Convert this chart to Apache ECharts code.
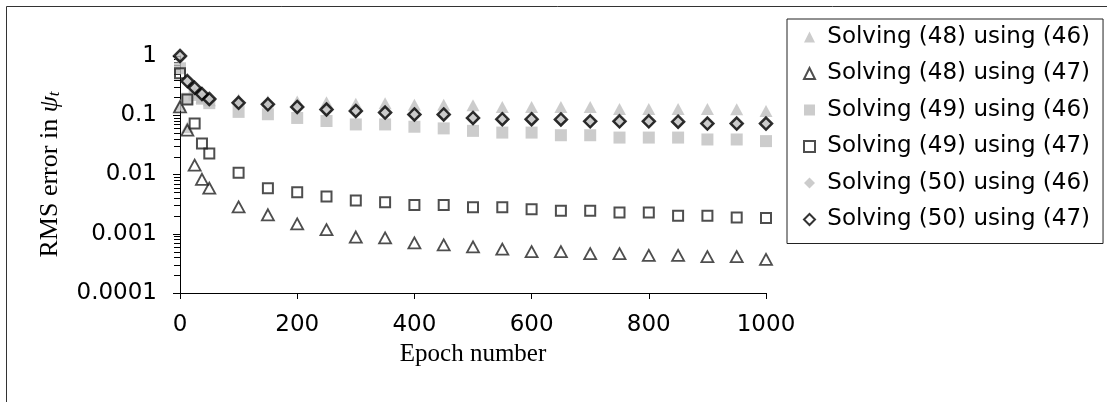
<!DOCTYPE html>
<html>
<head>
<meta charset="utf-8">
<script src="https://cdn.jsdelivr.net/npm/echarts@6/dist/echarts.min.js"></script>
<style>
html,body{margin:0;padding:0;background:#fff;}
#chart{width:1107px;height:402px;}
</style>
</head>
<body>
<div id="chart"></div>
<script>
// ---- data ----
const epochs = [0, 12.5, 25, 37.5, 50, 100, 150, 200, 250, 300, 350, 400, 450, 500, 550, 600, 650, 700, 750, 800, 850, 900, 950, 1000];

const solving48using46 = [0.15, 0.063, 0.24, 0.2, 0.18, 0.185, 0.172, 0.17, 0.165, 0.157, 0.16, 0.151, 0.151, 0.147, 0.138, 0.138, 0.138, 0.138, 0.128, 0.128, 0.128, 0.128, 0.126, 0.118];
const solving48using47 = [0.138, 0.056, 0.0144, 0.0083, 0.0059, 0.00284, 0.00209, 0.00147, 0.00117, 0.00088, 0.00085, 0.0007, 0.00065, 0.0006, 0.00055, 0.0005, 0.0005, 0.00046, 0.00046, 0.00043, 0.00043, 0.00041, 0.00041, 0.00037];
const solving49using46 = [0.62, 0.19, 0.22, 0.19, 0.16, 0.114, 0.104, 0.09, 0.08, 0.07, 0.07, 0.064, 0.06, 0.0545, 0.051, 0.051, 0.046, 0.046, 0.042, 0.042, 0.042, 0.039, 0.039, 0.0366];
const solving49using47 = [0.51, 0.184, 0.0726, 0.0334, 0.0227, 0.0107, 0.00586, 0.00502, 0.00424, 0.00363, 0.00341, 0.00307, 0.00307, 0.00281, 0.00281, 0.0026, 0.00244, 0.00244, 0.00228, 0.00228, 0.00201, 0.00201, 0.00188, 0.00184];
const solving50using46 = [0.95, 0.37, 0.28, 0.22, 0.18, 0.16, 0.15, 0.135, 0.122, 0.115, 0.108, 0.101, 0.1, 0.088, 0.084, 0.083, 0.082, 0.078, 0.077, 0.077, 0.076, 0.071, 0.07, 0.07];
const solving50using47 = [1.0, 0.377, 0.29, 0.228, 0.188, 0.162, 0.153, 0.138, 0.125, 0.118, 0.111, 0.103, 0.103, 0.09, 0.0857, 0.0857, 0.085, 0.079, 0.079, 0.079, 0.078, 0.0725, 0.0725, 0.0725];

const seriesNames = ['Solving (48) using (46)', 'Solving (48) using (47)', 'Solving (49) using (46)', 'Solving (49) using (47)', 'Solving (50) using (46)', 'Solving (50) using (47)'];
const yTickLabels = ['0.0001', '0.001', '0.01', '0.1', '1'];
const yTickExponents = [-4, -3, -2, -1, 0];
const minorTickMultipliers = [2, 3, 4, 5, 6, 7, 8, 9];
const xAxisTitle = 'Epoch number';

// ---- build ----
const pair = arr => arr.map((v, i) => [epochs[i], v]);
const minorTicks = [];
yTickExponents.slice(0, -1).forEach(e => minorTickMultipliers.forEach(m => minorTicks.push([0, m * Math.pow(10, e)])));

const GRAY = '#bfbfbf';
const DARK = '#222222';
const sansFont = 'DejaVu Sans';
const serifFont = 'Liberation Serif';

const chart = echarts.init(document.getElementById('chart'), null, {renderer: 'canvas'});
chart.setOption({
  animation: false,
  backgroundColor: '#fff',
  graphic: [{
    type: 'rect', z: -10, silent: true,
    shape: {x: 6.5, y: 6.5, width: 1200, height: 500},
    style: {fill: 'none', stroke: '#333', lineWidth: 1}
  }],
  grid: {left: 180, right: 341, top: 56, bottom: 109, containLabel: false},
  legend: {
    data: seriesNames,
    orient: 'vertical',
    left: 787, top: 19,
    padding: [6, 13, 12, 16],
    itemGap: 12.5,
    itemWidth: 11, itemHeight: 11,
    borderColor: '#222', borderWidth: 1,
    backgroundColor: '#fff',
    formatter: n => ' ' + n,
    textStyle: {fontFamily: sansFont, fontSize: 23, color: '#000', lineHeight: 24},
    selectedMode: false
  },
  xAxis: {
    type: 'value', min: 0, max: 1000, interval: 200,
    name: xAxisTitle, nameLocation: 'middle', nameGap: 42,
    nameTextStyle: {fontFamily: serifFont, fontSize: 25, color: '#000'},
    axisLine: {show: true, lineStyle: {color: '#000', width: 1}},
    axisTick: {show: true, length: 6, lineStyle: {color: '#000'}},
    axisLabel: {fontFamily: sansFont, fontSize: 23, color: '#000', margin: 21, formatter: v => String(v)},
    splitLine: {show: false}
  },
  yAxis: {
    type: 'log', logBase: 10, min: 0.0001, max: 1,
    name: 'RMS error in {i|ψ}{s|t}', nameLocation: 'middle', nameGap: 117,
    nameTextStyle: {
      fontFamily: serifFont, fontSize: 26, color: '#000',
      rich: {
        i: {fontFamily: serifFont, fontStyle: 'italic', fontSize: 26, color: '#000'},
        s: {fontFamily: serifFont, fontStyle: 'italic', fontSize: 17, color: '#000', verticalAlign: 'bottom', padding: [9, 0, 0, 0]}
      }
    },
    axisLine: {show: true, lineStyle: {color: '#000', width: 1}},
    axisTick: {show: true, length: 7, lineStyle: {color: '#000'}},
    axisLabel: {
      fontFamily: sansFont, fontSize: 23, color: '#000', margin: 23,
      formatter: v => {
        const e = Math.round(Math.log10(v));
        const k = yTickExponents.indexOf(e);
        return k >= 0 ? yTickLabels[k] : '';
      }
    },
    splitLine: {show: false}
  },
  series: [
    {
      name: seriesNames[0], type: 'scatter', data: pair(solving48using46), clip: false,
      symbol: 'triangle', symbolSize: [13, 12],
      itemStyle: {color: GRAY, borderWidth: 0}
    },
    {
      name: seriesNames[1], type: 'scatter', data: pair(solving48using47), clip: false,
      symbol: 'triangle', symbolSize: [12, 11],
      itemStyle: {color: 'rgba(0,0,0,0)', borderColor: DARK, borderWidth: 1.8}
    },
    {
      name: seriesNames[2], type: 'scatter', data: pair(solving49using46), clip: false,
      symbol: 'rect', symbolSize: 12,
      itemStyle: {color: GRAY, borderWidth: 0}
    },
    {
      name: seriesNames[3], type: 'scatter', data: pair(solving49using47), clip: false,
      symbol: 'rect', symbolSize: 10,
      itemStyle: {color: 'rgba(0,0,0,0)', borderColor: DARK, borderWidth: 2}
    },
    {
      name: seriesNames[4], type: 'scatter', data: pair(solving50using46), clip: false,
      symbol: 'diamond', symbolSize: 14,
      itemStyle: {color: GRAY, borderWidth: 0}
    },
    {
      name: seriesNames[5], type: 'scatter', data: pair(solving50using47), clip: false,
      symbol: 'diamond', symbolSize: 12,
      itemStyle: {color: 'rgba(0,0,0,0)', borderColor: '#000', borderWidth: 2.5}
    },
    {
      name: 'minorTicks', type: 'custom', data: minorTicks, clip: false, silent: true,
      renderItem: (params, api) => {
        const p = api.coord([api.value(0), api.value(1)]);
        const y = Math.round(p[1]) + 0.5;
        return {type: 'line', shape: {x1: p[0] - 6, y1: y, x2: p[0], y2: y}, style: {stroke: '#000', lineWidth: 1}};
      }
    }
  ]
});
</script>
</body>
</html>
